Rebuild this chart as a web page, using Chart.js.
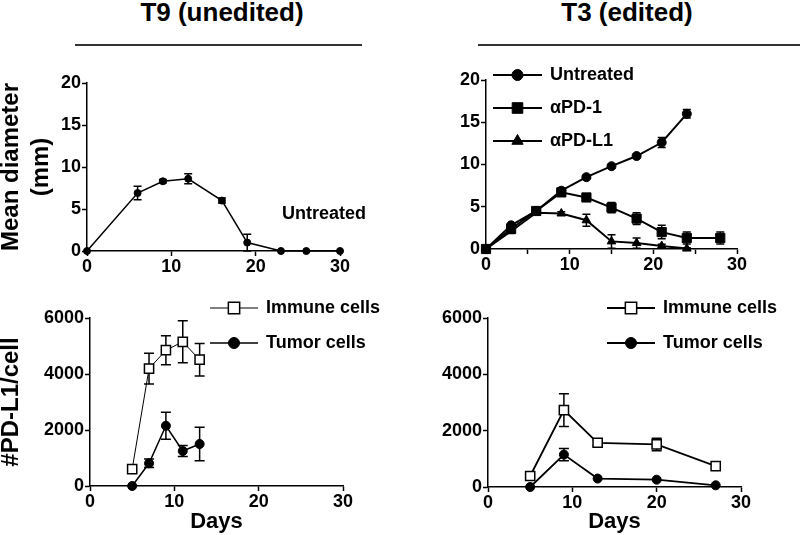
<!DOCTYPE html>
<html>
<head>
<meta charset="utf-8">
<script src="https://cdn.jsdelivr.net/npm/chart.js@4.4.0/dist/chart.umd.min.js"></script>
<style>
    body { margin: 0; background: #fff; }
    #wrap { position: relative; width: 800px; height: 535px; overflow: hidden; font-family: "Liberation Sans", Arial, sans-serif; }
    canvas { position: absolute; }
    .title { position: absolute; font-weight: bold; font-size: 26px; line-height: 30px; white-space: nowrap; transform: translateX(-50%); }
    .rule { position: absolute; top: 44px; height: 2px; background: #333; }
</style>
</head>
<body>
<div id="wrap">
    <div class="title" style="left:222px; top:-3px;">T9 (unedited)</div>
    <div class="title" style="left:627px; top:-3px;">T3 (edited)</div>
    <div class="rule" style="left:75px; width:287px;"></div>
    <div class="rule" style="left:478px; width:322px;"></div>
    <canvas id="c1" width="400" height="225" style="left:0; top:55px;"></canvas>
    <canvas id="c2" width="400" height="225" style="left:400px; top:55px;"></canvas>
    <canvas id="c3" width="400" height="255" style="left:0; top:280px;"></canvas>
    <canvas id="c4" width="400" height="255" style="left:400px; top:280px;"></canvas>
</div>
<script>
// T9 (unedited) - tumour diameter
const t9Days = [0, 6, 9, 12, 16, 19, 23, 26, 30];
const t9Diameter = [0, 6.9, 8.3, 8.6, 6.0, 1.0, 0, 0, 0];
const t9DiameterErr = [0, 0.8, 0.2, 0.6, 0.3, 1.0, 0, 0, 0];

// T3 (edited) - tumour diameter
const t3UntreatedDays = [0, 3, 6, 9, 12, 15, 18, 21, 24];
const t3Untreated = [0, 2.8, 4.5, 6.9, 8.5, 9.8, 11.0, 12.6, 16.0];
const t3UntreatedErr = [0, 0.2, 0.2, 0.3, 0.2, 0.2, 0.2, 0.6, 0.5];
const t3Pd1Days = [0, 3, 6, 9, 12, 15, 18, 21, 24, 28];
const t3Pd1 = [0, 2.4, 4.5, 6.7, 6.1, 4.9, 3.6, 2.0, 1.3, 1.3];
const t3Pd1Err = [0, 0.3, 0.3, 0.4, 0.3, 0.6, 0.7, 0.8, 0.7, 0.7];
const t3Pdl1Days = [0, 3, 6, 9, 12, 15, 18, 21, 24];
const t3Pdl1 = [0, 2.1, 4.3, 4.2, 3.4, 0.9, 0.7, 0.35, 0.05];
const t3Pdl1Err = [0, 0.2, 0.2, 0.2, 0.7, 0.8, 0.6, 0.2, 0.1];

// T9 (unedited) - PD-L1 per cell
const t9CellDays = [5, 7, 9, 11, 13];
const t9Immune = [600, 4190, 4850, 5150, 4510];
const t9ImmuneErr = [0, 550, 520, 750, 580];
const t9Tumor = [0, 810, 2150, 1250, 1500];
const t9TumorErr = [0, 150, 480, 200, 600];

// T3 (edited) - PD-L1 per cell
const t3CellDays = [5, 9, 13, 20, 27];
const t3Immune = [390, 2730, 1570, 1510, 740];
const t3ImmuneErr = [0, 580, 100, 220, 0];
const t3Tumor = [0, 1150, 300, 260, 60];
const t3TumorErr = [0, 220, 0, 0, 0];

// ticks
const dayTicks = [0, 10, 20, 30];
const dayMinorTicks = [0, 5, 10, 15, 20, 25, 30];
const diameterTicks = [0, 5, 10, 15, 20];
const pdl1Ticks = [0, 2000, 4000, 6000];

const FONT = '"Liberation Sans", Arial, sans-serif';
Chart.defaults.font.family = FONT;
Chart.defaults.font.weight = 'bold';
Chart.defaults.color = '#000';

const toPoints = (xs, ys) => xs.map((x, i) => ({ x: x, y: ys[i] }));

const errorBars = {
    id: 'errorBars',
    beforeDatasetsDraw(chart) {
        const ctx = chart.ctx;
        const yScale = chart.scales.y;
        chart.data.datasets.forEach((ds, di) => {
            if (!ds.errors) return;
            const meta = chart.getDatasetMeta(di);
            ctx.save();
            ctx.strokeStyle = '#000';
            ctx.lineWidth = 1.5;
            meta.data.forEach((pt, i) => {
                const e = ds.errors[i];
                if (!e) return;
                const v = ds.data[i].y;
                const top = yScale.getPixelForValue(v + e);
                const bot = yScale.getPixelForValue(v - e);
                const half = ds.capHalf || 4;
                ctx.beginPath();
                ctx.moveTo(pt.x, top); ctx.lineTo(pt.x, bot);
                ctx.moveTo(pt.x - half, top); ctx.lineTo(pt.x + half, top);
                ctx.moveTo(pt.x - half, bot); ctx.lineTo(pt.x + half, bot);
                ctx.stroke();
            });
            ctx.restore();
        });
    }
};

// legend drawn as line - marker - line followed by the label
const sampleLegend = {
    id: 'sampleLegend',
    afterDraw(chart, args, opts) {
        if (!opts.rows) return;
        const ctx = chart.ctx;
        ctx.save();
        ctx.font = 'bold 18px ' + FONT;
        ctx.textBaseline = 'middle';
        opts.rows.forEach((row, i) => {
            const ds = chart.data.datasets[row.dataset];
            const y = opts.y + i * opts.dy;
            if (opts.len) {
                ctx.strokeStyle = '#000';
                ctx.lineWidth = ds.borderWidth;
                ctx.beginPath();
                ctx.moveTo(opts.x, y);
                ctx.lineTo(opts.x + opts.len, y);
                ctx.stroke();
                ctx.fillStyle = ds.pointBackgroundColor;
                ctx.strokeStyle = ds.pointBorderColor;
                ctx.lineWidth = ds.pointBorderWidth;
                Chart.helpers.drawPoint(ctx, { pointStyle: ds.pointStyle, radius: row.radius, borderWidth: ds.pointBorderWidth, rotation: 0 }, opts.x + opts.len / 2, y);
            }
            ctx.fillStyle = '#000';
            ctx.fillText(ds.label, opts.textX, y);
        });
        ctx.restore();
    }
};

function series(label, xs, ys, errs, style) {
    return Object.assign({
        label: label,
        data: toPoints(xs, ys),
        errors: errs,
        borderColor: '#000',
        pointBorderColor: '#000',
        pointBackgroundColor: '#000',
        pointBorderWidth: 1,
        borderWidth: 1.5,
        pointStyle: 'circle',
        pointRadius: 4,
        capHalf: 4,
        tension: 0,
        clip: false
    }, style);
}

function createChart(canvasId, datasets, cfg) {
    const ctx = document.getElementById(canvasId).getContext('2d');
    return new Chart(ctx, {
        type: 'line',
        data: { datasets: datasets },
        plugins: [errorBars, sampleLegend],
        options: {
            responsive: false,
            animation: false,
            devicePixelRatio: 1,
            layout: { padding: cfg.padding },
            plugins: {
                legend: { display: false },
                tooltip: { enabled: false },
                sampleLegend: cfg.legend || {}
            },
            scales: {
                x: {
                    type: 'linear',
                    min: 0,
                    max: 30,
                    afterBuildTicks: s => { s.ticks = (cfg.xTicks || dayTicks).map(v => ({ value: v })); },
                    afterFit: s => { s.height = cfg.xHeight; },
                    ticks: {
                        font: { size: 18, weight: 'bold' },
                        padding: 0,
                        maxRotation: 0,
                        autoSkip: false,
                        callback: v => dayTicks.includes(v) ? String(v) : ''
                    },
                    grid: { drawOnChartArea: false, tickLength: 5, tickColor: '#000', tickWidth: 1.5 },
                    border: { color: '#000', width: 1.5 },
                    title: cfg.xTitle ? {
                        display: true,
                        text: cfg.xTitle,
                        font: { size: 22, weight: 'bold', lineHeight: 1.2 },
                        padding: { top: 0, bottom: 0 }
                    } : { display: false }
                },
                y: {
                    type: 'linear',
                    min: cfg.yTicks[0],
                    max: cfg.yTicks[cfg.yTicks.length - 1],
                    afterBuildTicks: s => { s.ticks = cfg.yTicks.map(v => ({ value: v })); },
                    afterFit: s => { s.width = cfg.yWidth; },
                    ticks: { font: { size: 18, weight: 'bold' }, padding: 1, callback: v => String(v) },
                    grid: { drawOnChartArea: false, tickLength: 5, tickColor: '#000', tickWidth: 1.5 },
                    border: { color: '#000', width: 1.5 },
                    title: cfg.yTitle ? {
                        display: true,
                        text: cfg.yTitle,
                        font: { size: 24, weight: 'bold', lineHeight: 1.25 },
                        padding: { top: -4, bottom: 0 }
                    } : { display: false }
                }
            }
        }
    });
}

// T9 diameter
createChart('c1', [
    series('Untreated', t9Days, t9Diameter, t9DiameterErr, { pointRadius: 3.5, capHalf: 4 })
], {
    padding: { left: 0, top: 28, right: 60, bottom: 0 },
    yWidth: 87, xHeight: 29,
    yTicks: diameterTicks,
    yTitle: ['Mean diameter', '(mm)'],
    legend: { x: 0, len: 0, textX: 282, y: 159, dy: 0, rows: [{ dataset: 0 }] }
});

// T3 diameter
createChart('c2', [
    series('Untreated', t3UntreatedDays, t3Untreated, t3UntreatedErr, { borderWidth: 2, pointRadius: 4.5 }),
    series('\u03b1PD-1', t3Pd1Days, t3Pd1, t3Pd1Err, { borderWidth: 2, pointStyle: 'rect', pointRadius: 6.5 }),
    series('\u03b1PD-L1', t3Pdl1Days, t3Pdl1, t3Pdl1Err, { borderWidth: 2, pointStyle: 'triangle', pointRadius: 5 })
], {
    padding: { left: 0, top: 25, right: 63, bottom: 0 },
    yWidth: 86, xHeight: 31,
    yTicks: diameterTicks,
    xTicks: dayMinorTicks,
    legend: {
        x: 93, len: 49, textX: 150, y: 20, dy: 33,
        rows: [{ dataset: 0, radius: 5.5 }, { dataset: 1, radius: 7.5 }, { dataset: 2, radius: 6.5 }]
    }
});

// T9 PD-L1 per cell
createChart('c3', [
    series('Immune cells', t9CellDays, t9Immune, t9ImmuneErr, { borderWidth: 1, pointStyle: 'rect', pointRadius: 6.5, pointBackgroundColor: '#fff', pointBorderWidth: 1.5, capHalf: 5 }),
    series('Tumor cells', t9CellDays, t9Tumor, t9TumorErr, { borderWidth: 1.5, pointRadius: 4.5, capHalf: 5 })
], {
    padding: { left: 0, top: 38, right: 57, bottom: 0 },
    yWidth: 90, xHeight: 49,
    yTicks: pdl1Ticks,
    yTitle: '#PD-L1/cell',
    xTitle: 'Days',
    legend: {
        x: 210, len: 48, textX: 266, y: 28, dy: 35,
        rows: [{ dataset: 0, radius: 8 }, { dataset: 1, radius: 5.5 }]
    }
});

// T3 PD-L1 per cell
createChart('c4', [
    series('Immune cells', t3CellDays, t3Immune, t3ImmuneErr, { borderWidth: 1.8, pointStyle: 'rect', pointRadius: 6.5, pointBackgroundColor: '#fff', pointBorderWidth: 1.5, capHalf: 5 }),
    series('Tumor cells', t3CellDays, t3Tumor, t3TumorErr, { borderWidth: 1.8, pointRadius: 4.5, capHalf: 5 })
], {
    padding: { left: 0, top: 38, right: 59, bottom: 0 },
    yWidth: 88, xHeight: 48,
    yTicks: pdl1Ticks,
    xTitle: 'Days',
    legend: {
        x: 207, len: 48, textX: 263, y: 28, dy: 35,
        rows: [{ dataset: 0, radius: 8 }, { dataset: 1, radius: 5.5 }]
    }
});
</script>
</body>
</html>
